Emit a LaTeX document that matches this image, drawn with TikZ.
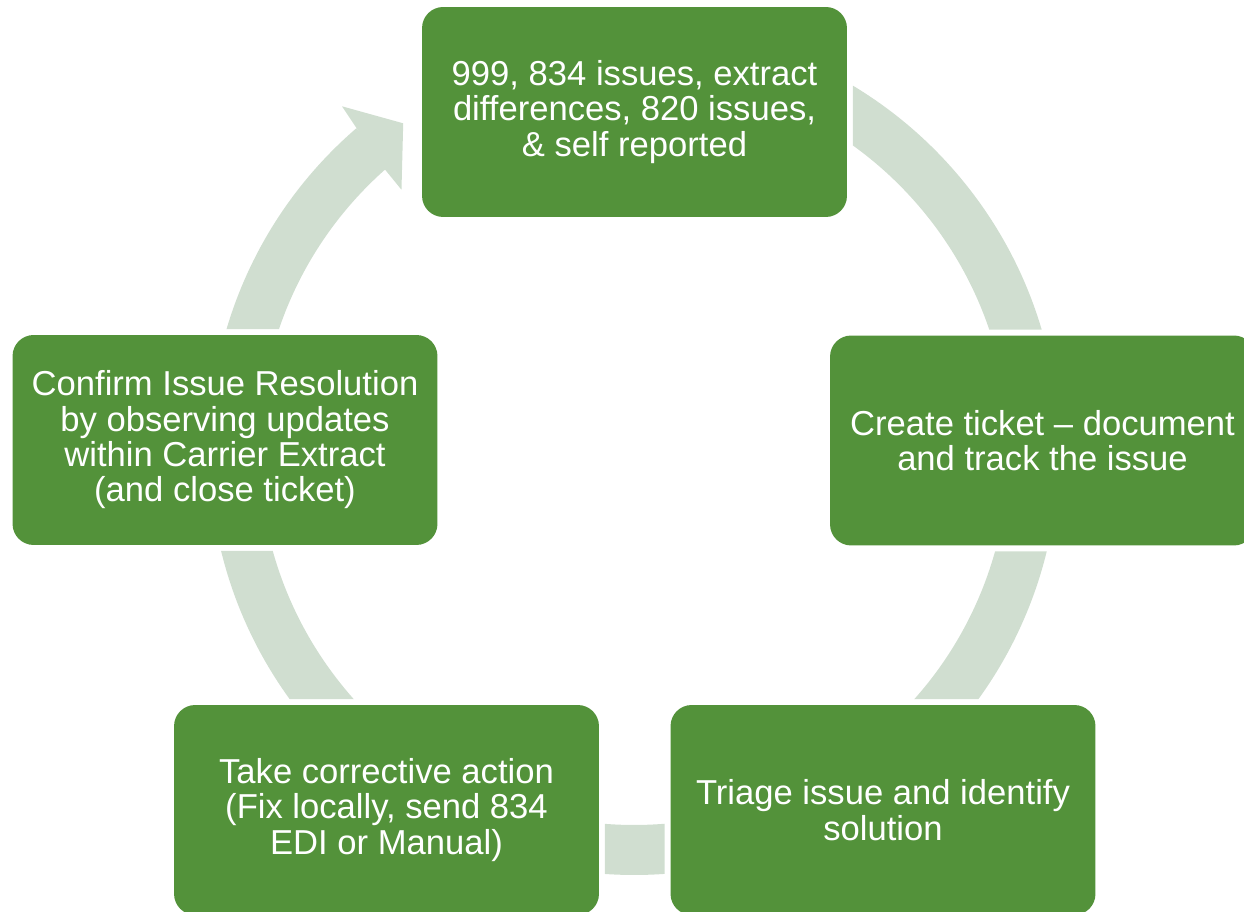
\documentclass[tikz,border=0pt]{standalone}
\usepackage{fontspec}
\setmainfont{Liberation Sans}
\usetikzlibrary{backgrounds}
\definecolor{boxgreen}{RGB}{83,146,58}
\definecolor{ringgreen}{RGB}{208,222,208}
\tikzset{
  stagebox/.style={fill=boxgreen, rounded corners=12pt, minimum width=8.5cm, minimum height=4.2cm,
    inner sep=0pt, outer sep=0.12cm, align=center, text=white, font=\fontsize{19.7}{20.1}\selectfont},
  ring/.style={draw=ringgreen, line width=1cm},
}
\begin{document}
\begin{tikzpicture}[x=0.02cm, y=0.02cm]
    \useasboundingbox (0,0) rectangle (1244,912);
    \node[stagebox](report) at (634.5,800) {999, 834 issues, extract\\differences, 820 issues,\\\& self reported};  % top
    \node[stagebox](ticket) at (1042.5,471.5) {Create ticket – document\\and track the issue};                % right
    \node[stagebox](triage) at (883,102) {Triage issue and identify\\solution};                                  % bottom right
    \node[stagebox](action) at (386.5,102) {Take corrective action\\(Fix locally, send 834\\EDI or Manual)};     % bottom left
    \node[stagebox](confirm) at (225,472) {Confirm Issue Resolution\\by observing updates\\within Carrier Extract\\(and close ticket)}; % left
    \begin{pgfonlayer}{background}
    \begin{scope}[even odd rule]
        % ring is cut out round every box
        \clip (-50,-50) rectangle (1300,960)
            (report.south west) rectangle (report.north east)
            (ticket.south west) rectangle (ticket.north east)
            (triage.south west) rectangle (triage.north east)
            (action.south west) rectangle (action.north east)
            (confirm.south west) rectangle (confirm.north east);
        \draw[ring] (634,462) ++(130.76:400) arc[start angle=130.76, end angle=480, radius=400];
        \fill[ringgreen, shift={(634,462)}] (130.35:451) -- (125.24:400) -- (131.78:349) -- (131.6:375) -- (130.76:425) -- cycle;  % head
    \end{scope}
    \end{pgfonlayer}
\end{tikzpicture}
\end{document}
